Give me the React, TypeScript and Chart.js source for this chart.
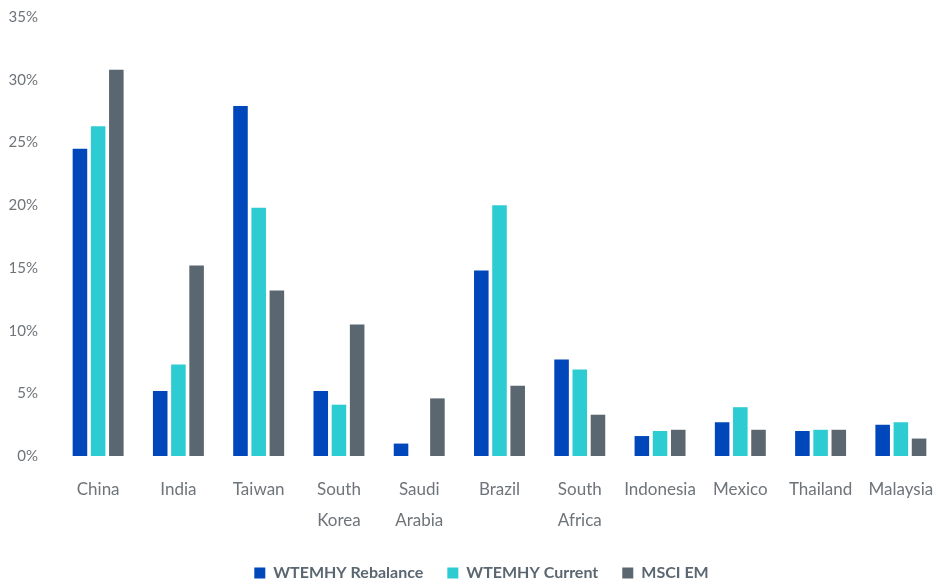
import React, { useEffect, useRef } from "react";
import { Chart, registerables } from "chart.js";

Chart.register(...registerables);

const categories: (string | string[])[] = [
  "China",
  "India",
  "Taiwan",
  ["South", "Korea"],
  ["Saudi", "Arabia"],
  "Brazil",
  ["South", "Africa"],
  "Indonesia",
  "Mexico",
  "Thailand",
  "Malaysia",
];
const rebalance = [24.5, 5.2, 27.9, 5.2, 1.0, 14.8, 7.7, 1.6, 2.7, 2.0, 2.5];
const current = [26.3, 7.3, 19.8, 4.1, 0, 20.0, 6.9, 2.0, 3.9, 2.1, 2.7];
const msciEm = [30.8, 15.2, 13.2, 10.5, 4.6, 5.6, 3.3, 2.1, 2.1, 2.1, 1.4];
const seriesNames = ["WTEMHY Rebalance", "WTEMHY Current", "MSCI EM"];
const yTicks = [0, 5, 10, 15, 20, 25, 30, 35];

const legendShift = {
  id: "legendShift",
  afterLayout(chart: any) {
    const l = chart.legend;
    if (l) {
      l.left += 7;
      l.right += 7;
    }
  },
};

export default function App() {
  const ref = useRef<HTMLCanvasElement | null>(null);
  useEffect(() => {
    if (!ref.current) return;
    const chart = new Chart(ref.current, {
      type: "bar",
      data: {
        labels: categories,
        datasets: [
          { label: seriesNames[0], data: rebalance, backgroundColor: "#0047BB" },
          { label: seriesNames[1], data: current, backgroundColor: "#2DCCD3" },
          { label: seriesNames[2], data: msciEm, backgroundColor: "#5B6770" },
        ],
      },
      plugins: [legendShift],
      options: {
        animation: false,
        responsive: false,
        maintainAspectRatio: false,
        layout: { padding: { left: 8, right: 0, top: 17, bottom: -9 } },
        datasets: { bar: { categoryPercentage: 0.68, barPercentage: 0.8 } },
        plugins: {
          tooltip: { enabled: false },
          legend: {
            position: "bottom",
            labels: {
              boxWidth: 11,
              boxHeight: 11,
              padding: 24,
              color: "#5B6770",
              font: { family: "Lato", size: 16, weight: "bold" },
            },
          },
        },
        scales: {
          x: {
            grid: { display: false, drawTicks: false },
            border: { display: false },
            afterFit: (s: any) => {
              s.height -= 13;
              s.paddingLeft = 0;
              s.paddingRight = 0;
            },
            ticks: {
              color: "#6E7479",
              padding: 18,
              font: { family: "Lato", size: 17, lineHeight: 1.82 },
              maxRotation: 0,
              autoSkip: false,
            },
          },
          y: {
            min: 0,
            max: 35,
            grid: { display: false, drawTicks: false },
            border: { display: false },
            afterFit: (s: any) => {
              s.width = 50;
              s.paddingTop = 0;
              s.paddingBottom = 0;
            },
            afterBuildTicks: (axis: any) => {
              axis.ticks = yTicks.map((v) => ({ value: v }));
            },
            ticks: {
              color: "#6E7479",
              padding: 20,
              font: { family: "Lato", size: 15 },
              callback: (v: any) => v + "%",
            },
          },
        },
      },
    });
    return () => chart.destroy();
  }, []);
  return (
    <div
      style={{
        position: "fixed",
        left: 0,
        top: 0,
        width: 933,
        height: 582,
        overflow: "hidden",
        background: "#fff",
      }}
    >
      <div style={{ width: 941, height: 582 }}>
        <canvas ref={ref} width={941} height={582} style={{ display: "block", width: 941, height: 582 }} />
      </div>
    </div>
  );
}
